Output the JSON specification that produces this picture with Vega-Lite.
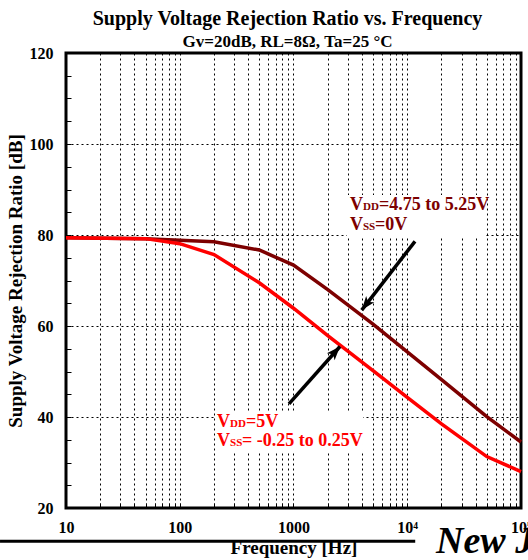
{
  "$schema": "https://vega.github.io/schema/vega-lite/v6.json",
  "width": 455,
  "height": 455,
  "autosize": {"type": "none"},
  "padding": {"left": 66, "top": 53, "right": 7, "bottom": 52},
  "background": "white",
  "title": {
    "text": "Supply Voltage Rejection Ratio vs. Frequency",
    "subtitle": "Gv=20dB, RL=8Ω, Ta=25 °C",
    "font": "Liberation Serif",
    "fontSize": 20,
    "fontWeight": "bold",
    "color": "black",
    "subtitleFont": "Liberation Serif",
    "subtitleFontSize": 17,
    "subtitleFontWeight": "bold",
    "subtitleColor": "black",
    "subtitlePadding": 5,
    "anchor": "middle",
    "offset": 4,
    "dx": -6,
    "dy": 9
  },
  "datasets": {
    "curves": [
      {"series": "dark", "freq": 10, "db": 79.4},
      {"series": "dark", "freq": 50, "db": 79.2},
      {"series": "dark", "freq": 200, "db": 78.5},
      {"series": "dark", "freq": 500, "db": 76.7},
      {"series": "dark", "freq": 1000, "db": 73.4},
      {"series": "dark", "freq": 2000, "db": 68.0},
      {"series": "dark", "freq": 5000, "db": 60.4},
      {"series": "dark", "freq": 10000, "db": 54.3},
      {"series": "dark", "freq": 20000, "db": 48.2},
      {"series": "dark", "freq": 50000, "db": 40.1},
      {"series": "dark", "freq": 100000, "db": 34.5},
      {"series": "red", "freq": 10, "db": 79.4},
      {"series": "red", "freq": 50, "db": 79.2},
      {"series": "red", "freq": 100, "db": 78.1},
      {"series": "red", "freq": 200, "db": 75.7},
      {"series": "red", "freq": 500, "db": 69.5},
      {"series": "red", "freq": 1000, "db": 63.9},
      {"series": "red", "freq": 2000, "db": 57.9},
      {"series": "red", "freq": 5000, "db": 50.2},
      {"series": "red", "freq": 10000, "db": 44.3},
      {"series": "red", "freq": 20000, "db": 38.5},
      {"series": "red", "freq": 50000, "db": 31.3},
      {"series": "red", "freq": 100000, "db": 28.0}
    ],
    "boxes": [
      {"series": "dark", "freq": 2951, "freq2": 48260, "db": 88.8, "db2": 79.5},
      {"series": "red", "freq": 204, "freq2": 4083, "db": 40.9, "db2": 32.3}
    ],
    "labels": [
      {"series": "dark", "kind": "main", "text": "V", "freq": 3139, "db": 85.6},
      {"series": "dark", "kind": "sub", "text": "DD", "freq": 4083, "db": 85.6},
      {"series": "dark", "kind": "main", "text": "=4.75 to 5.25V", "freq": 5644, "db": 85.6},
      {"series": "dark", "kind": "main", "text": "V", "freq": 3139, "db": 81.2},
      {"series": "dark", "kind": "sub", "text": "SS", "freq": 4083, "db": 81.2},
      {"series": "dark", "kind": "main", "text": "=0V", "freq": 5206, "db": 81.2},
      {"series": "red", "kind": "main", "text": "V", "freq": 212.6, "db": 37.8},
      {"series": "red", "kind": "sub", "text": "DD", "freq": 276.6, "db": 37.8},
      {"series": "red", "kind": "main", "text": "=5V", "freq": 382.3, "db": 37.8},
      {"series": "red", "kind": "main", "text": "V", "freq": 212.6, "db": 33.7},
      {"series": "red", "kind": "sub", "text": "SS", "freq": 276.6, "db": 33.7},
      {"series": "red", "kind": "main", "text": "= -0.25 to 0.25V", "freq": 352.7, "db": 33.7}
    ],
    "arrows": [
      {"id": "a1", "freq": 11700, "db": 78.6, "freq2": 3978, "db2": 63.5},
      {"id": "a2", "freq": 912.6, "db": 42.9, "freq2": 2564, "db2": 55.5}
    ],
    "decor": [
      {"freq": 2.63, "freq2": 11750, "db": 12.7}
    ],
    "logo": [
      {"text": "New J", "freq": 17890, "db": 10.1}
    ]
  },
  "encoding": {
    "x": {
      "field": "freq",
      "type": "quantitative",
      "scale": {"type": "log", "domain": [10, 100000], "nice": false},
      "axis": {
        "title": "Frequency [Hz]",
        "values": [10, 20, 30, 40, 50, 60, 70, 80, 90, 100, 200, 300, 400, 500, 600, 700, 800, 900, 1000, 2000, 3000, 4000, 5000, 6000, 7000, 8000, 9000, 10000, 20000, 30000, 40000, 50000, 60000, 70000, 80000, 90000, 100000],
        "labelExpr": "datum.value == 10 ? '10' : datum.value == 100 ? '100' : datum.value == 1000 ? '1000' : datum.value == 10000 ? '10⁴' : datum.value == 100000 ? '10⁵' : ''",
        "grid": true,
        "gridColor": "black",
        "gridDash": [2, 3],
        "gridWidth": 1,
        "gridOpacity": 1,
        "ticks": true,
        "tickSize": -5,
        "tickColor": "black",
        "tickWidth": 1,
        "domain": false,
        "labelFont": "Liberation Serif",
        "labelFontWeight": "bold",
        "labelFontSize": 16,
        "labelColor": "black",
        "labelPadding": 16,
        "labelOverlap": false,
        "labelFlush": false,
        "labelBound": false,
        "titleFont": "Liberation Serif",
        "titleFontWeight": "bold",
        "titleFontSize": 19,
        "titleColor": "black",
        "titlePadding": 3
      }
    },
    "y": {
      "field": "db",
      "type": "quantitative",
      "scale": {"domain": [20, 120], "nice": false, "zero": false},
      "axis": {
        "title": "Supply Voltage Rejection Ratio [dB]",
        "values": [20, 25, 30, 35, 40, 45, 50, 55, 60, 65, 70, 75, 80, 85, 90, 95, 100, 105, 110, 115, 120],
        "labelExpr": "datum.value % 20 == 0 ? datum.label : ''",
        "grid": true,
        "gridColor": "black",
        "gridDash": [2, 3],
        "gridWidth": 1,
        "gridOpacity": {"condition": {"test": "datum.value % 20 == 0", "value": 1}, "value": 0},
        "ticks": true,
        "tickSize": -5,
        "tickColor": "black",
        "tickWidth": 1,
        "domain": false,
        "labelFont": "Liberation Serif",
        "labelFontWeight": "bold",
        "labelFontSize": 16,
        "labelColor": "black",
        "labelPadding": 18,
        "labelOverlap": false,
        "labelFlush": false,
        "labelBound": false,
        "titleFont": "Liberation Serif",
        "titleFontWeight": "bold",
        "titleFontSize": 19,
        "titleColor": "black",
        "titlePadding": 4
      }
    }
  },
  "layer": [
    {
      "data": {"name": "boxes"},
      "mark": {"type": "rect", "fill": "white", "stroke": null},
      "encoding": {
        "x2": {"field": "freq2"},
        "y2": {"field": "db2"}
      }
    },
    {
      "data": {"name": "curves"},
      "mark": {"type": "line", "strokeWidth": 3.5, "strokeJoin": "miter"},
      "encoding": {
        "color": {
          "field": "series",
          "type": "nominal",
          "scale": {"domain": ["dark", "red"], "range": ["#7d0000", "#ff0000"]},
          "legend": null
        }
      }
    },
    {
      "data": {"name": "arrows"},
      "mark": {"type": "rule", "strokeWidth": 3.5, "color": "black"},
      "encoding": {
        "x2": {"field": "freq2"},
        "y2": {"field": "db2"}
      }
    },
    {
      "data": {"name": "arrows"},
      "transform": [{"filter": "datum.id == 'a1'"}],
      "mark": {"type": "point", "shape": "M0,0L0.6,1.6L0,1.2L-0.6,1.6Z", "filled": true, "color": "black", "opacity": 1, "size": 300, "angle": 218},
      "encoding": {
        "x": {"field": "freq2", "type": "quantitative"},
        "y": {"field": "db2", "type": "quantitative"}
      }
    },
    {
      "data": {"name": "arrows"},
      "transform": [{"filter": "datum.id == 'a2'"}],
      "mark": {"type": "point", "shape": "M0,0L0.6,1.6L0,1.2L-0.6,1.6Z", "filled": true, "color": "black", "opacity": 1, "size": 300, "angle": 42},
      "encoding": {
        "x": {"field": "freq2", "type": "quantitative"},
        "y": {"field": "db2", "type": "quantitative"}
      }
    },
    {
      "data": {"name": "labels"},
      "transform": [{"filter": "datum.kind == 'main'"}],
      "mark": {"type": "text", "align": "left", "baseline": "alphabetic", "font": "Liberation Serif", "fontWeight": "bold", "fontSize": 18},
      "encoding": {
        "text": {"field": "text"},
        "color": {"field": "series", "type": "nominal", "legend": null}
      }
    },
    {
      "data": {"name": "labels"},
      "transform": [{"filter": "datum.kind == 'sub'"}],
      "mark": {"type": "text", "align": "left", "baseline": "alphabetic", "font": "Liberation Serif", "fontWeight": "bold", "fontSize": 11},
      "encoding": {
        "text": {"field": "text"},
        "color": {"field": "series", "type": "nominal", "legend": null}
      }
    },
    {
      "data": {"name": "decor"},
      "mark": {"type": "rule", "strokeWidth": 3, "color": "black"},
      "encoding": {
        "x2": {"field": "freq2"}
      }
    },
    {
      "data": {"name": "logo"},
      "mark": {"type": "text", "align": "left", "baseline": "alphabetic", "font": "Liberation Serif", "fontStyle": "italic", "fontWeight": "bold", "fontSize": 38, "color": "black"},
      "encoding": {
        "text": {"field": "text"}
      }
    }
  ],
  "config": {
    "view": {"stroke": "black", "strokeWidth": 3},
    "axis": {"gridCap": "butt"}
  }
}
